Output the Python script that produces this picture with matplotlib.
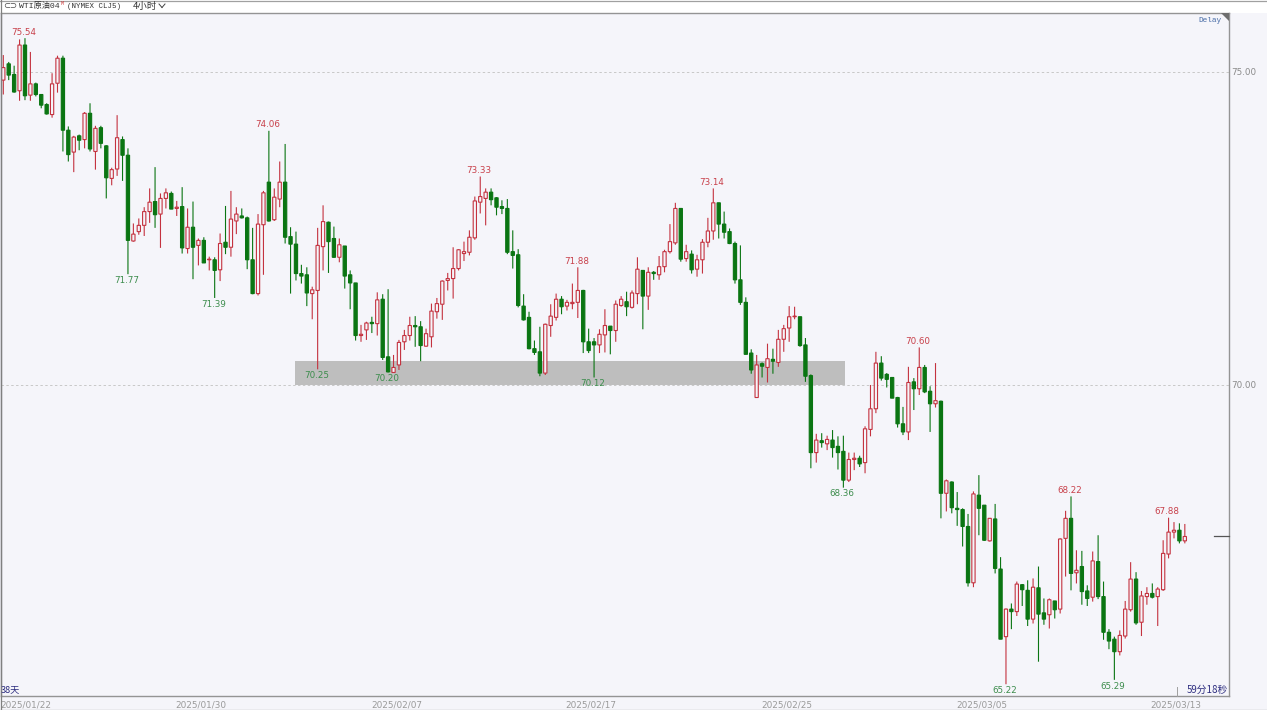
import matplotlib
matplotlib.use("Agg")
import matplotlib.pyplot as plt
from matplotlib.lines import Line2D
from matplotlib.patches import Rectangle, Polygon

opens = [74.87,75.13,74.96,74.70,75.43,74.63,74.81,74.64,74.48,74.32,
74.82,75.22,74.07,73.72,73.98,73.92,74.34,73.73,74.11,73.82,
73.30,73.45,73.92,73.67,72.30,72.45,72.55,72.77,72.93,72.73,
72.98,73.06,72.82,72.85,72.18,72.52,72.23,72.31,72.00,72.00,
71.84,72.28,72.20,72.62,72.70,72.67,72.00,71.46,72.56,73.24,
72.64,72.97,73.24,72.37,72.25,71.78,71.76,71.46,71.51,72.21,
72.60,72.34,72.04,72.22,71.76,71.63,70.79,70.88,71.00,70.98,
71.37,70.45,70.20,70.32,70.69,70.79,70.95,70.93,70.62,70.77,
71.17,71.29,71.67,71.70,71.86,72.10,72.12,72.35,72.92,72.98,
73.08,72.99,72.85,72.82,72.13,72.08,71.26,71.08,70.58,70.53,
70.19,70.95,71.08,71.37,71.26,71.30,71.32,71.51,70.69,70.69,
70.64,70.80,70.94,70.87,71.27,71.33,71.24,71.46,71.83,71.42,
71.80,71.76,71.89,72.13,72.27,72.82,72.02,72.09,71.85,72.00,
72.28,72.46,72.91,72.57,72.45,72.26,71.68,71.32,70.51,69.80,
70.34,70.28,70.41,70.36,70.73,70.91,71.09,71.09,70.64,70.15,
68.92,69.11,69.06,69.12,69.02,68.94,68.48,68.81,68.83,68.76,
69.29,69.62,70.35,70.17,70.12,69.80,69.38,69.25,70.05,69.94,
70.28,69.90,69.70,69.74,68.27,68.45,68.03,68.01,67.74,66.84,
68.24,68.08,67.51,67.86,67.06,65.98,66.42,66.38,66.81,66.72,
66.26,66.76,66.36,66.33,66.55,66.42,67.55,67.87,67.00,67.10,
66.71,66.61,67.18,66.62,66.05,65.94,65.74,65.99,66.41,66.90,
66.21,66.62,66.67,66.62,66.73,67.30,67.65,67.68,67.51]

highs = [75.27,75.16,75.10,75.52,75.54,75.32,74.83,74.64,74.50,74.98,
75.26,75.26,74.13,73.98,74.00,74.36,74.50,74.14,74.14,73.83,
73.47,74.31,73.97,73.78,72.58,72.66,72.84,73.14,73.48,73.06,
73.14,73.09,72.94,73.16,72.82,72.93,72.34,72.36,72.05,72.04,
72.42,72.86,73.10,72.84,72.82,72.69,72.51,72.73,73.10,74.06,
73.14,73.57,73.85,72.52,72.45,71.92,71.88,71.57,72.51,72.87,
72.61,72.53,72.34,72.22,71.83,71.63,70.96,71.01,71.09,71.48,
71.45,71.53,70.48,70.72,70.88,71.09,71.10,71.02,70.90,71.30,
71.39,71.67,71.79,72.20,72.17,72.29,72.47,73.01,73.33,73.14,
73.14,73.00,72.95,72.97,72.47,72.17,71.45,71.17,70.71,70.93,
70.98,71.29,71.46,71.42,71.36,71.62,71.88,71.52,70.90,70.75,
70.89,71.21,70.94,71.35,71.42,71.49,71.51,72.04,71.83,71.88,
71.82,72.06,72.16,72.57,72.91,72.82,72.24,72.15,72.08,72.33,
72.67,73.14,72.91,72.77,72.50,72.29,72.23,71.40,70.57,70.48,
70.36,70.66,70.58,70.88,70.96,71.26,71.25,71.09,70.75,70.17,
69.22,69.23,69.19,69.28,69.18,69.19,68.92,68.92,68.87,69.34,
70.00,70.53,70.46,70.19,70.12,69.81,69.65,70.29,70.11,70.60,
70.32,69.98,70.35,69.75,68.49,68.46,68.29,68.03,67.94,68.30,
68.56,68.08,67.87,68.10,67.25,66.43,66.51,66.86,66.82,66.88,
66.91,67.10,66.59,66.59,66.55,67.55,67.99,68.22,67.36,67.35,
66.80,67.34,67.60,66.86,66.10,65.98,66.08,66.55,67.17,67.01,
66.71,66.77,66.83,66.77,67.52,67.88,67.81,67.79,67.78]

lows = [74.64,74.87,74.67,74.54,74.55,74.54,74.61,74.42,74.32,74.27,
74.67,73.73,73.57,73.40,73.75,73.78,73.73,73.44,73.78,72.98,
73.19,73.34,73.26,71.77,72.29,72.40,72.38,72.59,72.51,72.19,
72.82,72.81,72.70,72.10,72.10,71.69,71.91,71.95,71.83,71.39,
71.66,72.09,72.05,72.41,72.66,71.85,71.45,71.43,71.76,72.61,
72.62,72.84,72.26,71.46,71.67,71.62,71.26,71.05,70.25,71.83,
71.79,72.03,71.96,71.54,71.21,70.71,70.69,70.72,70.83,70.79,
70.40,70.20,70.20,70.24,70.56,70.71,70.61,70.38,70.61,70.60,
71.06,71.04,71.51,71.38,71.83,71.98,72.07,72.32,72.74,72.55,
72.87,72.71,72.73,72.09,71.86,71.24,71.03,70.57,70.48,70.14,
70.16,70.77,71.03,71.13,71.19,71.21,71.07,70.51,70.51,70.12,
70.51,70.52,70.49,70.69,71.25,71.10,71.22,71.29,70.89,71.20,
71.68,71.68,71.80,72.10,72.24,71.97,71.97,71.78,71.73,71.78,
72.20,72.32,72.34,72.34,72.25,71.62,71.28,70.49,70.18,69.80,
70.12,70.04,70.18,70.29,70.53,70.69,71.05,70.61,70.05,68.67,
68.76,69.00,68.96,68.84,68.65,68.36,68.45,68.64,68.69,68.59,
69.18,69.55,70.07,69.96,69.79,69.32,69.20,69.12,69.60,69.84,
69.87,69.25,69.64,67.87,67.98,67.95,67.75,67.42,66.78,66.77,
67.60,67.51,67.50,66.99,65.94,65.22,66.10,66.31,66.47,66.15,
66.19,65.58,66.17,66.11,66.27,66.35,66.94,66.72,66.83,66.49,
66.47,66.54,66.58,65.93,65.78,65.29,65.68,65.95,66.38,66.17,
65.99,66.49,66.59,66.15,66.71,67.23,67.55,67.47,67.47]

closes = [75.07,74.95,74.68,75.43,74.62,74.81,74.64,74.47,74.33,74.81,
75.22,74.07,73.68,73.96,73.91,74.34,73.77,74.10,73.86,73.31,
73.44,73.95,73.67,72.31,72.41,72.55,72.77,72.92,72.72,72.98,
73.07,72.81,72.84,72.19,72.52,72.20,72.31,71.95,72.01,71.83,
72.26,72.20,72.65,72.73,72.67,72.00,71.46,72.57,73.07,72.62,
73.00,73.24,72.36,72.25,71.78,71.74,71.47,71.52,72.23,72.61,
72.29,72.04,72.24,71.74,71.63,70.79,70.81,70.99,70.98,71.36,
70.44,70.21,70.28,70.68,70.79,70.95,70.93,70.63,70.82,71.18,
71.30,71.66,71.70,71.86,72.16,72.13,72.36,72.94,73.01,73.08,
72.96,72.84,72.82,72.12,72.07,71.27,71.04,70.58,70.52,70.19,
70.97,71.10,71.37,71.25,71.32,71.32,71.51,70.69,70.55,70.64,
70.81,70.95,70.87,71.29,71.37,71.25,71.47,71.85,71.42,71.80,
71.78,71.89,72.13,72.29,72.82,72.01,72.13,71.84,72.00,72.28,
72.46,72.91,72.57,72.44,72.26,71.68,71.32,70.49,70.24,70.32,
70.30,70.42,70.38,70.73,70.90,71.09,71.10,70.63,70.14,68.92,
69.12,69.08,69.13,69.00,68.92,68.48,68.81,68.83,68.74,69.30,
69.62,70.35,70.11,70.09,69.79,69.38,69.25,70.04,69.94,70.28,
69.89,69.70,69.75,68.27,68.47,68.04,68.01,67.74,66.84,68.26,
68.03,67.52,67.87,67.07,65.94,66.42,66.38,66.82,66.73,66.26,
66.77,66.34,66.26,66.57,66.41,67.54,67.87,66.99,67.04,66.70,
66.59,67.19,66.62,66.05,65.91,65.74,66.00,66.42,66.90,66.20,
66.63,66.67,66.61,66.74,67.31,67.65,67.68,67.51,67.58]

date_ticks = [4.2, 36.5, 72.6, 108.4, 144.6, 180.6, 216.4]
date_labels = ["2025/01/22", "2025/01/30", "2025/02/07", "2025/02/17",
               "2025/02/25", "2025/03/05", "2025/03/13"]
price_ticks = [70.0, 75.0]
high_marks = [4, 49, 88, 106, 131, 169, 197, 215]
low_marks = [23, 39, 58, 71, 109, 155, 185, 205]
zone_start, zone_end = 53.82, 155.3
zone_low, zone_high = 70.0, 70.38

W, H = 1267, 710
BG = "#F5F5FA"
RED = "#C4323F"
GREEN = "#0A7512"
LABEL_RED = "#C8404A"
LABEL_GREEN = "#3C8C4C"
GREY = "#949494"
NAVY = "#2E2E80"
CJK = ["Noto Sans CJK SC", "DejaVu Sans"]
MONO = ["Liberation Mono", "Noto Sans CJK SC"]

fig = plt.figure(figsize=(W / 100, H / 100), dpi=100, facecolor=BG)
ax = fig.add_axes([1 / W, 1 - 696 / H, 1228 / W, 683 / H], facecolor=BG)
ax.set_xlim(-0.424, 226.15)
ax.set_ylim(65.032, 75.942)

for spine in ("top", "left", "right", "bottom"):
    ax.spines[spine].set_color(GREY)
    ax.spines[spine].set_linewidth(1.0)

ax.add_patch(Rectangle((zone_start, zone_low), zone_end - zone_start,
                       zone_high - zone_low, facecolor="#BEBEBE",
                       edgecolor="none", zorder=1))
for p in price_ticks:
    ax.axhline(p, color="#C8C8C8", lw=0.7, ls=(0, (2.5, 2.5)), zorder=1.5)

xs = list(range(len(opens)))
for i in xs:
    up = closes[i] >= opens[i]
    col = RED if up else GREEN
    ax.plot([i, i], [lows[i], highs[i]], color=col, lw=0.8, zorder=2,
            solid_capstyle="butt", snap=False)
    ax.bar(i, abs(closes[i] - opens[i]), bottom=min(opens[i], closes[i]),
           width=0.6, facecolor=BG if up else GREEN, edgecolor=col,
           linewidth=0.8, zorder=3, snap=False)

for i in high_marks:
    ax.annotate(f"{highs[i]:.2f}", (i, highs[i]), xytext=(-1, 4.2),
                textcoords="offset points", ha="center", va="center",
                fontsize=6.3, color=LABEL_RED, zorder=5)
for i in low_marks:
    ax.annotate(f"{lows[i]:.2f}", (i, lows[i]), xytext=(-1, -4.5),
                textcoords="offset points", ha="center", va="center",
                fontsize=6.3, color=LABEL_GREEN, zorder=5)

ax.yaxis.tick_right()
ax.set_yticks(price_ticks, [f"{p:.2f}" for p in price_ticks])
ax.tick_params(axis="y", length=0, pad=1.5, labelsize=6.3, labelcolor="#8A8A8A")
ax.set_xticks(date_ticks, date_labels)
ax.tick_params(axis="x", length=0, pad=3, labelsize=6.4, labelcolor="#9A9A9A")

# current price marker on the right edge
tr = ax.get_yaxis_transform()
ax.plot([0.9875, 1.0], [closes[-1], closes[-1]], transform=tr, color="#555555",
        lw=0.9, clip_on=False, zorder=4)

# chrome drawn in figure pixels


def fx(p):
    return p / W


def fy(p):
    return 1 - p / H


fig.patches.append(Rectangle((0, fy(13)), 1, 13 / H, transform=fig.transFigure,
                             facecolor="#FFFFFF", edgecolor="none", zorder=-1))
for xa, ya, xb, yb, c, w in [(0, 0.5, W, 0.5, "#A0A0A0", 0.9), (0.5, 0, 0.5, H, "#808080", 0.9),
                             (0, 709.5, W, 709.5, "#A0A0A0", 0.9),
                             (1177, 687, 1177, 696, "#A0A0A0", 0.7),
                             (159, 4, 162, 7.5, "#444444", 0.7), (162, 7.5, 165, 4, "#444444", 0.7)]:
    fig.add_artist(Line2D([fx(xa), fx(xb)], [fy(ya), fy(yb)], color=c, lw=w,
                          transform=fig.transFigure))
fig.add_artist(Polygon([(fx(1221), fy(13)), (fx(1229), fy(13)), (fx(1229), fy(21))],
                       closed=True, transform=fig.transFigure, facecolor="#6E6E6E",
                       edgecolor="none"))


def label(x, y, s, size, color, family, ha="left"):
    fig.text(fx(x), fy(y), s, fontsize=size, color=color, family=family,
             ha=ha, va="center")


label(3, 6.2, "⊂⊃", 6, "#444444", ["DejaVu Sans"])
label(19, 6.2, "WTI原油04", 5.9, "#333333", MONO)
label(61, 3.5, "M", 3.6, "#D04040", MONO)
label(67, 6.2, "(NYMEX CLJ5)", 5.4, "#333333", MONO)
label(133, 6.2, "4小时", 6.8, "#333333", CJK)
label(1198, 20.5, "Delay", 5.6, "#456AA5", MONO)
label(1, 689.5, "38天", 6.6, NAVY, CJK)
label(1187, 689.5, "59分18秒", 7.0, NAVY, CJK)

fig.savefig("out.png", dpi=100, facecolor=BG)
